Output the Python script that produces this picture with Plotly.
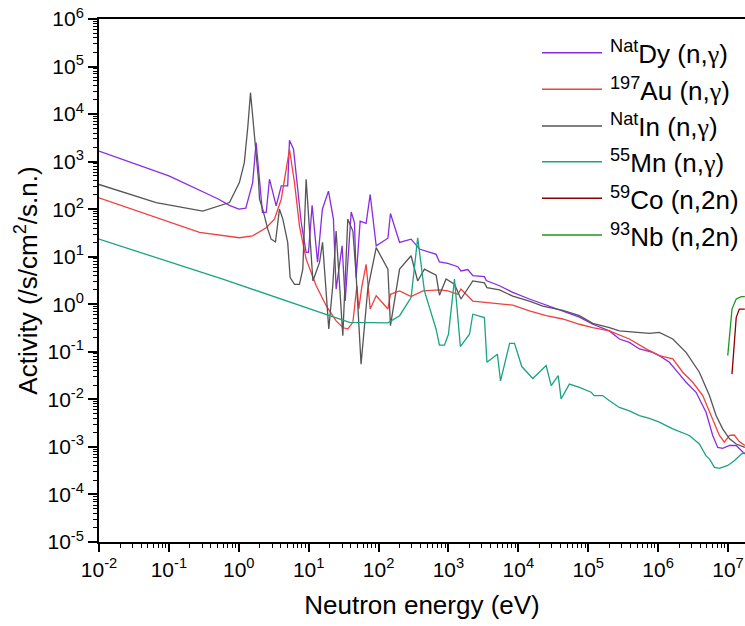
import plotly.graph_objects as go

# Neutron energy (eV) and activity (/s/cm^2/s.n.) for each reaction
dy_e = [0.01, 0.1, 0.5, 0.736, 1.0, 1.26, 1.58, 1.77, 2.18, 2.47, 2.75, 3.43, 4.05, 5.01, 5.31, 6.07,
        7.82, 9.2, 9.93, 11.2, 13.4, 15.7, 19.2, 22.6, 24.7, 30.1, 33.3, 40.6, 45.2, 47.8, 54.5, 66.4,
        75.9, 92.5, 136, 148, 200, 292, 385, 667, 743, 977, 1360, 1510, 1890, 2230, 3270, 3470, 5370,
        8320, 14400, 22400, 43200, 74800, 1.16e5, 2.01e5, 2.79e5, 3.88e5, 5.4e5, 8.37e5, 1.04e6,
        1.45e6, 2.01e6, 2.51e6, 3.49e6, 4.85e6, 6.04e6, 7.13e6, 8.39e6, 1.05e7, 1.31e7, 1.55e7, 1.74e7]
dy_a = [1660, 500, 166, 120, 100, 105, 363, 2510, 86, 86, 427, 117, 309, 309, 2820, 1820,
        52.5, 12.3, 12.3, 120, 7.67, 100, 240, 61.7, 2.09, 17, 1.17, 87, 52.5, 3.63, 56.2, 50.1,
        204, 17, 24.5, 81.3, 20, 23.4, 14.5, 11.2, 7.76, 7.24, 6.17, 5.01, 5.37, 3.98, 3.8, 3.16, 2.45,
        1.78, 1.29, 1.02, 0.741, 0.537, 0.38, 0.275, 0.186, 0.158, 0.115, 0.0977, 0.0832,
        0.0603, 0.0339, 0.0229, 0.0141, 0.00537, 0.00174, 0.000977, 0.000933, 0.00107, 0.00107, 0.000832, 0.000708]

au_e = [0.01, 0.0658, 0.274, 1.02, 1.58, 2.47, 3.24, 4.05, 5.31, 6.27, 7.38, 9.2, 12.8, 17.8, 24.7,
        30.8, 36.3, 42.9, 49, 52.1, 57.5, 66.4, 75.9, 92.5, 136, 148, 200, 292, 430, 743, 977, 1360,
        1510, 2230, 3470, 5370, 8320, 14400, 25000, 43200, 74800, 1.16e5, 2.01e5, 3.88e5, 6.73e5,
        1.04e6, 1.62e6, 2.25e6, 3.13e6, 4.35e6, 6.04e6, 7.53e6, 8.87e6, 1.05e7, 1.23e7, 1.45e7, 1.74e7]
au_a = [174, 66.1, 32.4, 25.1, 27.5, 40.7, 61.7, 162, 1820, 363, 44.7, 8.91, 2.45, 0.933, 0.447,
        0.324, 0.302, 0.417, 2.45, 0.794, 2.29, 6.92, 0.794, 1.51, 0.794, 1.62, 1.91, 1.45, 1.91, 2.0, 1.91, 1.62,
        2.09, 1.17, 1.1, 1.0, 0.955, 0.724, 0.575, 0.49, 0.38, 0.324, 0.275, 0.186, 0.115,
        0.0832, 0.0708, 0.0372, 0.0229, 0.012, 0.00389, 0.00174, 0.00126, 0.00174, 0.00178, 0.00129, 0.00107]

in_e = [0.01, 0.0658, 0.305, 0.736, 1.02, 1.2, 1.35, 1.47, 1.58, 1.77, 1.91, 1.98, 2.2, 2.6, 2.9, 3.35,
        3.82, 4.27, 5.01, 5.43, 6.27, 7.38, 8.24, 9.2, 10.3, 11.5, 14.3, 15.8, 19.4, 22.1, 24.7, 30.8,
        36.3, 42.9, 47.8, 56.2, 70.1, 92.5, 136, 148, 200, 292, 363, 453, 667, 743, 925, 1220, 1510,
        2230, 3270, 3550, 5370, 8320, 14400, 22400, 43200, 74800, 1.16e5, 2.01e5, 2.79e5, 4.34e5,
        7.5e5, 1.04e6, 1.62e6, 2.51e6, 3.89e6, 5.42e6, 6.75e6, 8.39e6, 1.05e7, 1.31e7, 1.74e7]
in_a = [331, 138, 91.2, 138, 363, 955, 5620, 28200, 9120, 1550, 427, 162, 100, 38, 23.4, 20.4,
        100, 61.7, 20, 3.63, 2.63, 2.63, 5.5, 427, 32.4, 3.09, 7.59, 20, 0.302, 2.45, 34.7, 0.219,
        61.7, 34.7, 3.98, 0.055, 2.09, 15.5, 5.5, 0.355, 5.5, 10.5, 3.09, 5.5, 4.07, 1.55, 3.39, 2.63, 1.29,
        3.09, 2.82, 2.24, 2.0, 1.48, 1.17, 0.912, 0.741, 0.575, 0.398, 0.324, 0.275, 0.257,
        0.245, 0.257, 0.186, 0.0977, 0.0372, 0.012, 0.00457, 0.0024, 0.00148, 0.00115, 0.000977]

mn_e = [0.01, 0.59, 19.9, 38.4, 136, 200, 292, 363, 453, 667, 743, 877, 1000, 1220, 1480, 2000, 2230,
        3270, 3550, 5010, 5560, 7500, 8810, 11200, 16100, 25000, 29500, 37200, 40900, 53700, 74800,
        1.1e5, 1.22e5, 1.61e5, 2.01e5, 2.79e5, 3.88e5, 5.4e5, 7.5e5, 1.04e6, 1.62e6, 2.8e6, 3.89e6,
        4.85e6, 5.42e6, 6.4e6, 7.53e6, 9.91e6, 1.23e7, 1.55e7, 1.74e7]
mn_a = [23.4, 3.39, 0.575, 0.417, 0.407, 0.575, 1.38, 25.1, 1.91, 0.295, 0.138, 0.138, 0.234, 3.39, 0.129, 0.234, 0.617,
        0.525, 0.0603, 0.0891, 0.0245, 0.151, 0.151, 0.049, 0.0275, 0.0513, 0.0195, 0.0316, 0.0102, 0.0209, 0.0178,
        0.0141, 0.012, 0.012, 0.00933, 0.00676, 0.00575, 0.00457, 0.00398, 0.00331, 0.0024, 0.00174, 0.00115,
        0.000646, 0.000562, 0.000372, 0.000355, 0.000407, 0.000513, 0.000708, 0.000759]

co_e = [1.14e7, 1.31e7, 1.45e7, 1.74e7]
co_a = [0.0339, 0.525, 0.794, 0.794]

nb_e = [9.91e6, 1.14e7, 1.31e7, 1.55e7, 1.74e7]
nb_a = [0.0832, 0.794, 1.29, 1.45, 1.45]

GAMMA = '<span style="font-family:Liberation Serif, DejaVu Serif, serif">γ</span>'
names = [f"<sup>Nat</sup>Dy (n,{GAMMA})", f"<sup>197</sup>Au (n,{GAMMA})", f"<sup>Nat</sup>In (n,{GAMMA})",
         f"<sup>55</sup>Mn (n,{GAMMA})", "<sup>59</sup>Co (n,2n)", "<sup>93</sup>Nb (n,2n)"]
colors = ["#8a2be2", "#f04040", "#555555", "#1aa382", "#8b0000", "#1e961e"]
series = [(dy_e, dy_a), (au_e, au_a), (in_e, in_a), (mn_e, mn_a), (co_e, co_a), (nb_e, nb_a)]

decades_x = list(range(-2, 8))
decades_y = list(range(-5, 7))

FONT = "Arial, Liberation Sans, sans-serif"

fig = go.Figure()
for (e, a), name, col in zip(series, names, colors):
    fig.add_trace(go.Scatter(x=e, y=a, mode="lines", name=name,
                             line=dict(color=col, width=1.3), showlegend=False))

def minor_vals(decs):
    return [m * 10.0 ** d for d in decs for m in range(2, 10)]

fig.update_xaxes(
    type="log", range=[-2, 7.243],
    tickvals=[10.0 ** d for d in decades_x],
    ticktext=[f"10<sup>{d}</sup>" for d in decades_x],
    ticks="outside", ticklen=8, tickwidth=1.5, tickcolor="black",
    minor=dict(tickvals=minor_vals(range(-2, 8)), ticks="outside", ticklen=4,
               tickwidth=1.2, tickcolor="black", showgrid=False),
    showline=True, linecolor="black", linewidth=1.8, mirror=True,
    showgrid=False, zeroline=False,
    tickfont=dict(family=FONT, size=21, color="black"),
    title=dict(text="Neutron energy (eV)", font=dict(family=FONT, size=26, color="black"), standoff=16),
)
fig.update_yaxes(
    type="log", range=[-5, 6],
    tickvals=[10.0 ** d for d in decades_y],
    ticktext=[f"10<sup>{d}</sup>" for d in decades_y],
    ticks="outside", ticklen=9, tickwidth=1.5, tickcolor="black",
    minor=dict(tickvals=minor_vals(range(-5, 6)), ticks="outside", ticklen=4,
               tickwidth=1.2, tickcolor="black", showgrid=False),
    showline=True, linecolor="black", linewidth=1.8,
    showgrid=False, zeroline=False,
    tickfont=dict(family=FONT, size=21, color="black"),
    title=dict(text="Activity (/s/cm<sup>2</sup>/s.n.)", font=dict(family=FONT, size=26, color="black"), standoff=2),
)

# Legend drawn as sample lines with labels in the upper right
L, R, T, B = 99, 745, 19, 542
W, H = 745, 626
row_y = [52.7, 89.3, 126.0, 161.7, 198.3, 235.0]
for yy, name, col in zip(row_y, names, colors):
    py = (B - yy) / (B - T)
    fig.add_shape(type="line", xref="paper", yref="paper",
                  x0=(542 - L) / (R - L), x1=(602 - L) / (R - L), y0=py, y1=py,
                  line=dict(color=col, width=1.6))
    fig.add_annotation(xref="paper", yref="paper", x=(608 - L) / (R - L), y=py,
                       text=name, showarrow=False, xanchor="left", yanchor="middle",
                       font=dict(family=FONT, size=26, color="black"))

fig.update_layout(
    width=W, height=H,
    margin=dict(l=L, r=W - R, t=T, b=H - B),
    plot_bgcolor="white", paper_bgcolor="white",
)

fig.write_html("out.html")
